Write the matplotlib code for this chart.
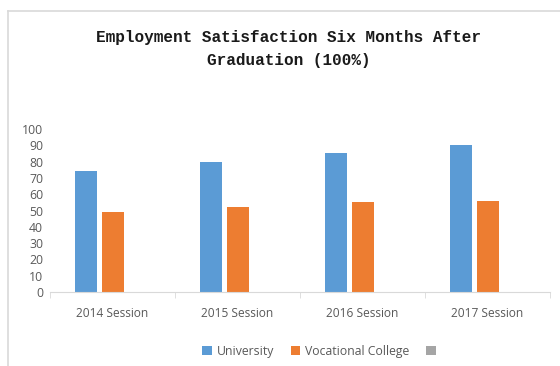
import matplotlib
matplotlib.use('Agg')
import matplotlib.pyplot as plt
from matplotlib.lines import Line2D
import numpy as np

# data
sessions = ['2014 Session', '2015 Session', '2016 Session', '2017 Session']
university = [74, 80, 85, 90]
vocational = [49, 52, 55, 56]
series3 = [0, 0, 0, 0]   # empty third series (grey legend entry only)
yticks = [0, 10, 20, 30, 40, 50, 60, 70, 80, 90, 100]

label_font = ['Open Sans', 'DejaVu Sans']
grey_text = '#595959'

fig = plt.figure(figsize=(5.6, 3.66), dpi=100)
fig.patch.set_facecolor('white')
ax = fig.add_axes([50 / 560, 74 / 366, 500 / 560, 163 / 366])

x = np.arange(len(sessions))
w = 0.176
off = 0.212
b1 = ax.bar(x - off, university, w, color='#5B9BD5', label='University')
b2 = ax.bar(x, vocational, w, color='#ED7D31', label='Vocational College')
b3 = ax.bar(x + off, series3, w, color='#A5A5A5', label=' ')

ax.set_xlim(-0.5, len(sessions) - 0.5)
ax.set_ylim(0, 100)
ax.set_yticks(yticks)
ax.set_yticklabels([str(v) for v in yticks], fontsize=8.8, color=grey_text,
                   family=label_font)
ax.set_xticks(x)
ax.set_xticklabels(sessions, fontsize=8.6, color=grey_text, family=label_font)
ax.set_xticks(np.arange(len(sessions) + 1) - 0.5, minor=True)
ax.tick_params(axis='x', which='major', length=0, pad=11)
ax.tick_params(axis='x', which='minor', length=4, color='#D9D9D9')
ax.tick_params(axis='y', length=0, pad=5)

for s in ['top', 'right', 'left']:
    ax.spines[s].set_visible(False)
ax.spines['bottom'].set_color('#D9D9D9')

fig.text(0.515, 0.866, 'Employment Satisfaction Six Months After\nGraduation (100%)',
         ha='center', va='center', fontsize=11.5, fontweight='bold',
         family='Liberation Mono', color='#1a1a1a', linespacing=1.6)

fig.legend(handles=[b1, b2, b3], labels=['University', 'Vocational College', ''],
           loc='center', bbox_to_anchor=(0.574, 0.04), ncol=3, frameon=False,
           prop={'family': label_font, 'size': 8.8},
           handlelength=0.75, handleheight=0.75, handletextpad=0.4,
           columnspacing=1.4, labelcolor=grey_text)

# thin border on top and left like the original screenshot
fig.add_artist(Line2D([8 / 560, 1], [1 - 11 / 366, 1 - 11 / 366],
                      color='#D9D9D9', lw=1.2, transform=fig.transFigure))
fig.add_artist(Line2D([8 / 560, 8 / 560], [0, 1 - 11 / 366],
                      color='#D9D9D9', lw=1.2, transform=fig.transFigure))

plt.savefig('out.png', dpi=100, facecolor='white')
plt.close()
